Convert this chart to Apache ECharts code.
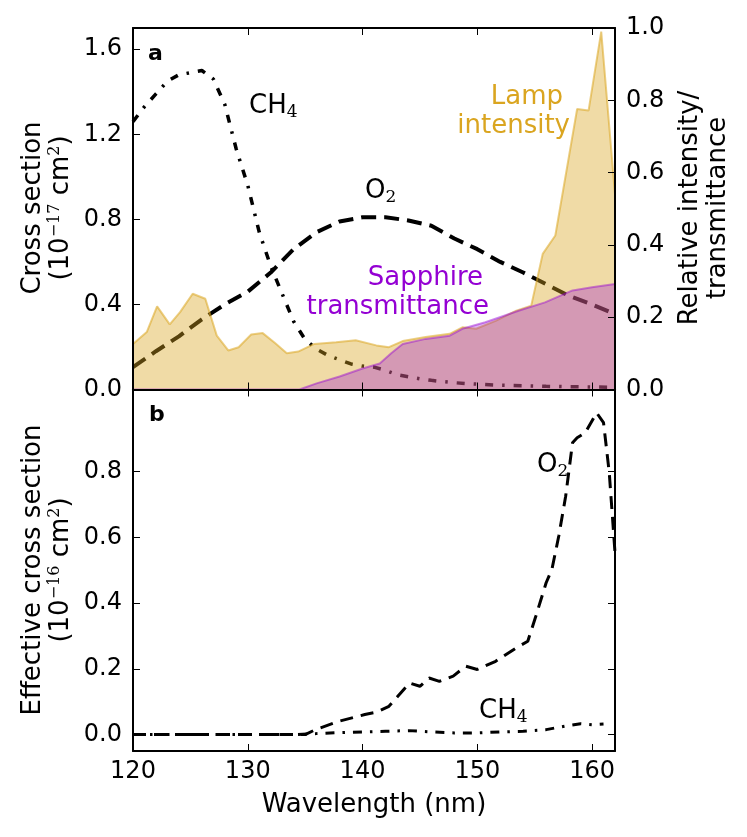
<!DOCTYPE html>
<html>
<head>
<meta charset="utf-8">
<script src="https://cdn.jsdelivr.net/npm/echarts@6/dist/echarts.min.js"></script>
<style>
html, body { margin: 0; padding: 0; background: #fff; }
#chart { width: 747px; height: 837px; }
</style>
</head>
<body>
<div id="chart"></div>
<script>
// panel a: cross sections (left axis, 1e-17 cm^2)
var ch4TopWl  = [120, 121, 122, 123, 124, 125, 126, 127, 128, 129, 130, 131, 132, 133, 134, 135, 136, 137, 138, 139, 140, 141, 142, 143, 144, 145, 146, 147, 148, 149, 150, 152, 154, 156, 158, 160, 162];
var ch4TopVal = [1.26, 1.33, 1.39, 1.45, 1.48, 1.49, 1.50, 1.46, 1.34, 1.13, 0.96, 0.74, 0.58, 0.45, 0.32, 0.235, 0.19, 0.16, 0.14, 0.12, 0.11, 0.105, 0.09, 0.07, 0.06, 0.05, 0.043, 0.037, 0.032, 0.028, 0.025, 0.02, 0.018, 0.015, 0.013, 0.012, 0.01];
var o2TopWl  = [120, 122, 124, 126, 128, 130, 132, 134, 136, 138, 140, 142, 144, 146, 148, 150, 152, 154, 156, 158, 160, 162];
var o2TopVal = [0.105, 0.18, 0.25, 0.33, 0.40, 0.46, 0.55, 0.66, 0.74, 0.79, 0.81, 0.81, 0.795, 0.77, 0.71, 0.66, 0.60, 0.55, 0.495, 0.44, 0.40, 0.355];

// panel a: lamp intensity and sapphire transmittance (right axis)
var lampWl  = [120, 121.2, 122.1, 123.2, 124.1, 125.2, 126.3, 127.3, 128.3, 129.2, 130.3, 131.3, 132.4, 133.4, 134.4, 135.8, 137.7, 139.4, 141.2, 142.3, 143.5, 145.5, 147.6, 148.7, 149.9, 151.6, 153.4, 154.7, 155.7, 156.8, 158.7, 159.7, 160.8, 162];
var lampVal = [0.126, 0.159, 0.23, 0.18, 0.214, 0.265, 0.251, 0.149, 0.108, 0.117, 0.152, 0.156, 0.128, 0.10, 0.105, 0.126, 0.131, 0.136, 0.122, 0.117, 0.134, 0.145, 0.154, 0.172, 0.168, 0.19, 0.218, 0.232, 0.375, 0.426, 0.776, 0.772, 0.99, 0.54];
var sapWl  = [120, 134.5, 136, 138, 140, 141.5, 142.5, 143.5, 145.5, 147.6, 148.7, 150.7, 153.6, 155.9, 158.3, 160, 162];
var sapVal = [0, 0, 0.017, 0.036, 0.058, 0.072, 0.1, 0.126, 0.14, 0.149, 0.168, 0.186, 0.218, 0.241, 0.274, 0.283, 0.292];

// panel b: effective cross sections (1e-16 cm^2)
var o2BotWl  = [120, 135, 135.9, 137.9, 140.2, 141.2, 142.3, 144.1, 145, 145.8, 146.7, 147.9, 149, 150, 151.6, 153.4, 154.4, 155.1, 156, 156.5, 157.1, 157.7, 158.3, 158.7, 159.4, 160.4, 161, 161.5, 162];
var o2BotVal = [0, 0, 0.015, 0.04, 0.061, 0.068, 0.086, 0.157, 0.147, 0.172, 0.162, 0.178, 0.208, 0.198, 0.223, 0.264, 0.284, 0.36, 0.462, 0.502, 0.604, 0.725, 0.888, 0.903, 0.918, 0.979, 0.949, 0.797, 0.554];
var ch4BotWl  = [120, 134, 136, 138, 140, 142, 144, 146, 148, 150, 152, 154, 156, 158, 159, 160, 161];
var ch4BotVal = [0, 0, 0.003, 0.006, 0.008, 0.01, 0.012, 0.008, 0.005, 0.005, 0.008, 0.01, 0.015, 0.028, 0.033, 0.03, 0.032];

// tick positions
var xTicks      = [120, 130, 140, 150, 160];
var yTopTicks   = [0, 0.4, 0.8, 1.2, 1.6];
var yRightTicks = [0, 0.2, 0.4, 0.6, 0.8, 1.0];
var yBotTicks   = [0, 0.2, 0.4, 0.6, 0.8];

var FONT = 'DejaVu Sans';

function pairs(xs, ys) {
    return xs.map(function (x, i) { return [x, ys[i]]; });
}

function fmt1(v) { return v.toFixed(1); }

// one side of the box; labels only when label values are given
function frameAxis(gridIndex, position, min, max, ticks, labels) {
    return {
        type: 'value',
        gridIndex: gridIndex,
        position: position,
        min: min,
        max: max,
        z: 5,
        axisLine: { show: true, onZero: false, lineStyle: { color: '#000', width: 2 } },
        axisTick: { show: true, inside: true, length: 7, customValues: ticks, lineStyle: { color: '#000', width: 1 } },
        axisLabel: labels ? {
            show: true, customValues: labels, formatter: fmt1, margin: 11,
            fontSize: 24, color: '#000', fontFamily: FONT
        } : { show: false },
        splitLine: { show: false }
    };
}

var xBottom = frameAxis(1, 'bottom', 120, 162, xTicks, xTicks);
xBottom.axisLabel.formatter = function (v) { return String(v); };
xBottom.axisLabel.margin = 9;
xBottom.name = 'Wavelength (nm)';
xBottom.nameLocation = 'middle';
xBottom.nameGap = 41;
xBottom.nameTextStyle = { fontSize: 26, color: '#000', fontFamily: FONT };

function label(x, y, text, opts) {
    var o = opts || {};
    var size = o.fontSize || 26;
    var lh = o.lineHeight || 30;
    var col = o.color || '#000';
    return {
        type: 'text', x: x, y: y, z: 20,
        rotation: o.rotation || 0,
        style: {
            text: text,
            fontSize: size,
            fontWeight: o.bold ? 'bold' : 'normal',
            fontFamily: FONT,
            fill: col,
            align: o.align || 'left',
            verticalAlign: 'middle',
            lineHeight: lh,
            rich: {
                sup: { fontSize: 16, lineHeight: 16, verticalAlign: 'top', fontFamily: 'DejaVu Serif', fill: col },
                sub: { fontSize: 17, lineHeight: 16, verticalAlign: 'bottom', fontFamily: 'DejaVu Serif', fill: col },
                t: { fontSize: size, lineHeight: lh, fontFamily: FONT, fill: col }
            }
        }
    };
}

var chart = echarts.init(document.getElementById('chart'));
chart.setOption({
    animation: false,
    backgroundColor: '#fff',
    grid: [
        { left: 133, top: 28, width: 482, height: 361.5 },
        { left: 133, top: 389.5, width: 482, height: 361.5 }
    ],
    xAxis: [
        frameAxis(0, 'bottom', 120, 162, xTicks, null),
        frameAxis(0, 'top', 120, 162, xTicks, null),
        xBottom,
        frameAxis(1, 'top', 120, 162, xTicks, null)
    ],
    yAxis: [
        frameAxis(0, 'left', 0, 1.7, yTopTicks, yTopTicks),
        frameAxis(0, 'right', 0, 1.0, yRightTicks, yRightTicks),
        frameAxis(1, 'left', -0.05, 1.05, yBotTicks, yBotTicks),
        frameAxis(1, 'right', -0.05, 1.05, yBotTicks, null)
    ],
    series: [
        {
            name: 'CH4', type: 'line', xAxisIndex: 0, yAxisIndex: 0, z: 1,
            showSymbol: false, data: pairs(ch4TopWl, ch4TopVal),
            lineStyle: { color: '#000', width: 3.5, type: [8, 9, 2.5, 9] }
        },
        {
            name: 'O2', type: 'line', xAxisIndex: 0, yAxisIndex: 0, z: 1,
            showSymbol: false, data: pairs(o2TopWl, o2TopVal),
            lineStyle: { color: '#000', width: 4, type: [15, 8] }
        },
        {
            name: 'Lamp intensity', type: 'line', xAxisIndex: 0, yAxisIndex: 1, z: 3,
            showSymbol: false, data: pairs(lampWl, lampVal),
            lineStyle: { color: 'rgba(218,165,32,0.55)', width: 2 },
            areaStyle: { color: 'rgba(218,165,32,0.4)', opacity: 1 }
        },
        {
            name: 'Sapphire transmittance', type: 'line', xAxisIndex: 0, yAxisIndex: 1, z: 4,
            showSymbol: false, data: pairs(sapWl, sapVal),
            lineStyle: { color: 'rgba(148,0,211,0.45)', width: 2 },
            areaStyle: { color: 'rgba(148,0,211,0.3)', opacity: 1 }
        },
        {
            name: 'O2 effective', type: 'line', xAxisIndex: 2, yAxisIndex: 2, z: 2,
            showSymbol: false, data: pairs(o2BotWl, o2BotVal),
            lineStyle: { color: '#000', width: 3, type: [13, 8] }
        },
        {
            name: 'CH4 effective', type: 'line', xAxisIndex: 2, yAxisIndex: 2, z: 2,
            showSymbol: false, data: pairs(ch4BotWl, ch4BotVal),
            lineStyle: { color: '#000', width: 3, type: [9, 8, 2.5, 8] }
        }
    ],
    graphic: [
        // axis titles
        label(47, 208, '{t|Cross section}\n{t|(10}{sup|−17}{t| cm}{sup|2}{t|)}', { rotation: Math.PI / 2, align: 'center', lineHeight: 28 }),
        label(704, 208, 'Relative intensity/\ntransmittance', { rotation: Math.PI / 2, align: 'center', lineHeight: 28 }),
        label(47, 570, '{t|Effective cross section}\n{t|(10}{sup|−16}{t| cm}{sup|2}{t|)}', { rotation: Math.PI / 2, align: 'center', lineHeight: 28 }),
        // panel letters
        label(148, 54, 'a', { bold: true, fontSize: 22 }),
        label(149, 415, 'b', { bold: true, fontSize: 22 }),
        // curve annotations
        label(249, 106, '{t|CH}{sub|4}'),
        label(365, 191, '{t|O}{sub|2}'),
        label(563, 97, 'Lamp', { color: '#DAA520', align: 'right' }),
        label(570, 126, 'intensity', { color: '#DAA520', align: 'right' }),
        label(483, 278, 'Sapphire', { color: '#9400D3', align: 'right' }),
        label(489, 307, 'transmittance', { color: '#9400D3', align: 'right' }),
        label(537, 465, '{t|O}{sub|2}'),
        label(479, 711, '{t|CH}{sub|4}')
    ]
});
</script>
</body>
</html>
